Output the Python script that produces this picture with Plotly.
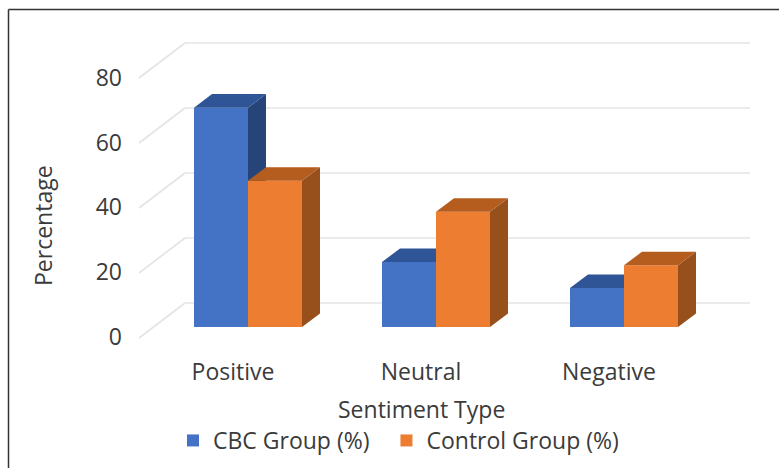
import plotly.graph_objects as go

# Sentiment shares by group
categories = ["Positive", "Neutral", "Negative"]
cbc_values = [67.5, 20, 12]
control_values = [45, 35.5, 19]
y_ticks = [0, 20, 40, 60, 80]

WIDTH, HEIGHT = 779, 468
FLOOR_PX, PX_PER_UNIT = 327, 3.25
FIRST_GROUP_PX, GROUP_STEP_PX = 248, 188

TEXT = "#3b3b3b"
FONT = "Open Sans"
FONT_SIZE = 23


def x_units(px):
    return px / GROUP_STEP_PX


def y_units(px):
    return px / PX_PER_UNIT


BAR_W = x_units(54)
DEPTH_X = x_units(18)
DEPTH_Y = y_units(13.5)

x_range = [x_units(-FIRST_GROUP_PX), x_units(WIDTH - FIRST_GROUP_PX)]
y_range = [y_units(FLOOR_PX - HEIGHT), y_units(FLOOR_PX)]


def depth_faces(values, left_offset, top_color, side_color):
    """Top and right-hand faces of each bar, as closed filled polygons."""
    top_x, top_y, side_x, side_y = [], [], [], []
    for i, v in enumerate(values):
        left = i + left_offset
        right = left + BAR_W
        top_x += [left, right, right + DEPTH_X, left + DEPTH_X, left, None]
        top_y += [v, v, v + DEPTH_Y, v + DEPTH_Y, v, None]
        side_x += [right, right + DEPTH_X, right + DEPTH_X, right, right, None]
        side_y += [0, DEPTH_Y, v + DEPTH_Y, v, 0, None]
    common = dict(mode="lines", line=dict(width=0), fill="toself",
                  showlegend=False, hoverinfo="skip")
    return [
        go.Scatter(x=side_x, y=side_y, fillcolor=side_color, **common),
        go.Scatter(x=top_x, y=top_y, fillcolor=top_color, **common),
    ]


fig = go.Figure()

# CBC group on the lower pair of axes so the control bars overlap its side faces.
# The trailing no-break spaces widen the gap between the two legend entries.
fig.add_trace(go.Bar(x=[0, 1, 2], y=cbc_values, width=BAR_W, offset=-BAR_W,
                     name="CBC Group (%)\u00a0\u00a0", marker=dict(color="#4472c4", line=dict(width=0))))
for t in depth_faces(cbc_values, -BAR_W, "#2f5597", "#264478"):
    fig.add_trace(t)

fig.add_trace(go.Bar(x=[0, 1, 2], y=control_values, width=BAR_W, offset=0,
                     xaxis="x2", yaxis="y2", name="Control Group (%)",
                     marker=dict(color="#ed7d31", line=dict(width=0))))
for t in depth_faces(control_values, 0, "#b55d1f", "#974f1c"):
    t.update(xaxis="x2", yaxis="y2")
    fig.add_trace(t)

# Back wall and left wall of the box
BACK_X0, BACK_X1 = x_units(185 - FIRST_GROUP_PX), x_units(750 - FIRST_GROUP_PX)
NEAR_X = x_units(139 - FIRST_GROUP_PX)
BACK_DY, NEAR_DY = y_units(FLOOR_PX - 303), y_units(FLOOR_PX - 338)
shapes = []
grid = dict(type="line", xref="x", yref="y", layer="below",
            line=dict(color="#e4e4e4", width=1.6))
for v in y_ticks:
    shapes.append(dict(grid, x0=BACK_X0, x1=BACK_X1, y0=v + BACK_DY, y1=v + BACK_DY))
    shapes.append(dict(grid, x0=NEAR_X, x1=BACK_X0, y0=v + NEAR_DY, y1=v + BACK_DY))

# Dark frame along the left and top of the chart
frame = dict(type="line", xref="paper", yref="paper", line=dict(color="#333333", width=1.5))
shapes.append(dict(frame, x0=8.5 / WIDTH, x1=8.5 / WIDTH, y0=0, y1=1 - 9.5 / HEIGHT))
shapes.append(dict(frame, x0=8.5 / WIDTH, x1=1, y0=1 - 9.5 / HEIGHT, y1=1 - 9.5 / HEIGHT))

# Value labels sit on the near edge of the floor, so they get their own scale
TICK_ZERO_PX, TICK_PX_PER_UNIT = 337, 3.24
tick_range = [(TICK_ZERO_PX - HEIGHT) / TICK_PX_PER_UNIT, TICK_ZERO_PX / TICK_PX_PER_UNIT]

# Category labels are shifted left of the bars
CAT_CENTRE_PX = 233
cat_range = [-CAT_CENTRE_PX / GROUP_STEP_PX, (WIDTH - CAT_CENTRE_PX) / GROUP_STEP_PX]

hidden = dict(visible=False, fixedrange=True)
title_font = dict(size=FONT_SIZE, color=TEXT)
fig.update_layout(
    width=WIDTH, height=HEIGHT,
    margin=dict(l=0, r=0, t=0, b=0),
    paper_bgcolor="white", plot_bgcolor="rgba(0,0,0,0)",
    font=dict(family=FONT, color=TEXT, size=FONT_SIZE),
    barmode="overlay",
    shapes=shapes,
    xaxis=dict(hidden, domain=[0, 1], range=x_range),
    yaxis=dict(hidden, domain=[0, 1], range=y_range),
    xaxis2=dict(hidden, range=x_range, overlaying="x"),
    yaxis2=dict(hidden, range=y_range, overlaying="y"),
    xaxis3=dict(
        overlaying="x", anchor="free", position=1 - 356 / HEIGHT, range=cat_range,
        tickmode="array", tickvals=[0, 1, 2], ticktext=categories,
        showgrid=False, zeroline=False, showline=False, ticks="",
        tickfont=title_font, side="bottom",
    ),
    yaxis3=dict(
        overlaying="y", anchor="free", position=122 / WIDTH, range=tick_range,
        tickmode="array", tickvals=y_ticks,
        showgrid=False, zeroline=False, showline=False, ticks="",
        tickfont=title_font, side="left",
    ),
    annotations=[
        dict(text="Sentiment Type", xref="paper", yref="paper", x=421 / WIDTH, y=1 - 409 / HEIGHT,
             showarrow=False, font=title_font, xanchor="center", yanchor="middle"),
        dict(text="Percentage", xref="paper", yref="paper", x=43 / WIDTH, y=1 - 226 / HEIGHT,
             showarrow=False, font=title_font, textangle=-90, xanchor="center", yanchor="middle"),
    ],
    legend=dict(
        orientation="h", x=173 / WIDTH, y=1 - 419 / HEIGHT, xanchor="left", yanchor="top",
        font=title_font, bgcolor="rgba(0,0,0,0)", itemclick=False,
    ),
)

# Invisible carrier so the label axes are drawn
fig.add_trace(go.Scatter(x=[0], y=[0], xaxis="x3", yaxis="y3", mode="markers",
                         marker=dict(opacity=0), showlegend=False, hoverinfo="skip"))

fig.write_html("out.html")
